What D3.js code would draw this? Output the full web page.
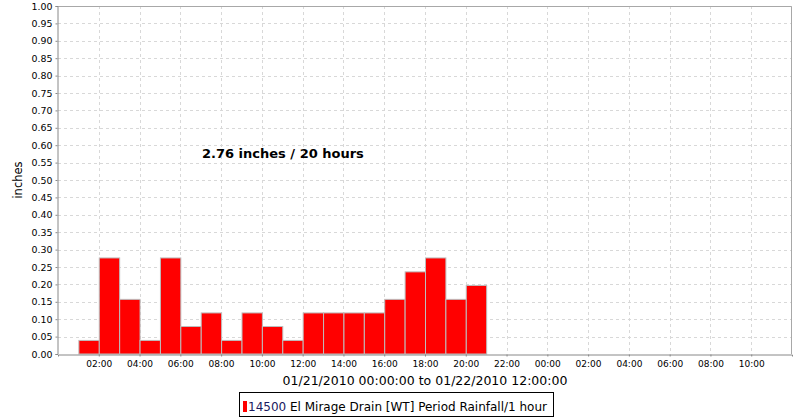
<!DOCTYPE html>
<html><head><meta charset="utf-8">
<script src="https://cdn.jsdelivr.net/npm/d3@7"></script>
<style>body{margin:0;background:#fff}svg{display:block;font-family:"DejaVu Sans",sans-serif}</style>
</head><body>
<svg id="c" width="800" height="420"></svg>
<script>
const binStarts = ["2010-01-21 01:00","2010-01-21 02:00","2010-01-21 03:00","2010-01-21 04:00","2010-01-21 05:00",
  "2010-01-21 06:00","2010-01-21 07:00","2010-01-21 08:00","2010-01-21 09:00","2010-01-21 10:00",
  "2010-01-21 11:00","2010-01-21 12:00","2010-01-21 13:00","2010-01-21 14:00","2010-01-21 15:00",
  "2010-01-21 16:00","2010-01-21 17:00","2010-01-21 18:00","2010-01-21 19:00","2010-01-21 20:00"];
const rainfall = [0.039,0.276,0.157,0.039,0.276,0.079,0.118,0.039,0.118,0.079,0.039,0.118,0.118,0.118,0.118,0.157,0.236,0.276,0.157,0.197];
const yTicks = d3.range(0,21).map(i=>i*0.05);
const timeStart = "2010-01-21 00:00", timeEnd = "2010-01-22 12:00";
const annotation = "2.76 inches / 20 hours";
const xTitle = "01/21/2010 00:00:00 to 01/22/2010 12:00:00";
const yTitle = "inches";
const seriesId = "14500";
const seriesName = " El Mirage Drain [WT] Period Rainfall/1 hour";

const parse = d3.timeParse("%Y-%m-%d %H:%M");
const svg = d3.select("#c");
const L=58,R=792,T=6,B=354;
const x = d3.scaleTime().domain([parse(timeStart),parse(timeEnd)]).range([L,R]);
const y = d3.scaleLinear().domain([0,1]).range([B,T]);
const xt = d3.timeHour.every(2).range(parse(timeStart),parse(timeEnd)).filter(d=>+d>+parse(timeStart));

// grid
const g = svg.append("g");
g.selectAll(".hg").data(yTicks.slice(1)).enter().append("line")
  .attr("x1",L).attr("x2",R).attr("y1",d=>Math.round(y(d))+0.5).attr("y2",d=>Math.round(y(d))+0.5)
  .attr("stroke","#d8d8d8").attr("stroke-dasharray","3,3");
g.selectAll(".vg").data(xt).enter().append("line")
  .attr("y1",T).attr("y2",B).attr("x1",d=>Math.round(x(d))+0.5).attr("x2",d=>Math.round(x(d))+0.5)
  .attr("stroke","#d8d8d8").attr("stroke-dasharray","3,3");
// border top/right
svg.append("path").attr("d",`M${L},${T+0.5}H${R-0.5}V${B}`).attr("fill","none").attr("stroke","#a8a8a8");

// bars
svg.selectAll(".bar").data(binStarts).enter().append("rect")
  .attr("x",d=>x(parse(d))+0.5)
  .attr("width",d=>x(d3.timeHour.offset(parse(d),1))-x(parse(d)))
  .attr("y",(d,i)=>y(rainfall[i]))
  .attr("height",(d,i)=>B-y(rainfall[i]))
  .attr("fill","#ff0000").attr("stroke","#bdbdbd").attr("stroke-width",1);

// axes
const ya = svg.append("g").attr("transform",`translate(${L-0.5},0)`)
  .call(d3.axisLeft(y).tickValues(yTicks).tickFormat(d3.format(".2f")).tickSize(2).tickPadding(3));
const xa = svg.append("g").attr("transform",`translate(0,${B+0.5})`)
  .call(d3.axisBottom(x).tickValues(xt).tickFormat(d3.timeFormat("%H:%M")).tickSize(2).tickPadding(4));
[ya,xa].forEach(a=>{
  a.select(".domain").attr("stroke","#888");
  a.selectAll(".tick line").attr("stroke","#888");
  a.selectAll("text").attr("font-family","DejaVu Sans").attr("font-size","9.5px").attr("fill","#000");
});
ya.selectAll("text").attr("textLength",21).attr("lengthAdjust","spacingAndGlyphs");
xa.selectAll("text").attr("textLength",26).attr("lengthAdjust","spacingAndGlyphs");

// annotation
svg.append("text").attr("x",202).attr("y",158).attr("font-size","13px").attr("font-weight","bold")
  .text(annotation);
// axis titles
svg.append("text").attr("x",(L+R)/2).attr("y",385).attr("text-anchor","middle").attr("font-size","12.5px").text(xTitle);
svg.append("text").attr("transform",`translate(22,${(T+B)/2}) rotate(-90)`).attr("text-anchor","middle")
  .attr("font-size","11.5px").text(yTitle);

// legend
const lg = svg.append("g");
lg.append("rect").attr("x",239.5).attr("y",392.5).attr("width",314).attr("height",24).attr("fill","#fff").attr("stroke","#000");
lg.append("rect").attr("x",243).attr("y",401).attr("width",4).attr("height",11).attr("fill","#ff0000");
const lt = lg.append("text").attr("x",248).attr("y",411).attr("font-size","12px");
lt.append("tspan").attr("fill","#1a1a60").text(seriesId);
lt.append("tspan").text(seriesName);
</script>
</body></html>
